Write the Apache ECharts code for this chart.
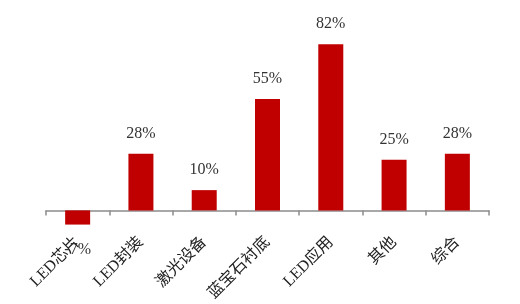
<!DOCTYPE html>
<html><head><meta charset="utf-8">
<script src="https://cdn.jsdelivr.net/npm/echarts@6/dist/echarts.min.js"></script>
<style>html,body{margin:0;padding:0;background:#fff}#c{width:520px;height:304px}</style>
</head><body><div id="c"></div>
<script>
const categories = ['LED芯片', 'LED封装', '激光设备', '蓝宝石衬底', 'LED应用', '其他', '综合'];
const values = [-7, 28, 10, 55, 82, 25, 28];

const chart = echarts.init(document.getElementById('c'));
chart.setOption({
  animation: false,
  backgroundColor: '#fff',
  grid: { left: 46, right: 31, top: 28, bottom: 69 },
  xAxis: {
    type: 'category',
    data: categories,
    axisLine: { lineStyle: { color: '#8c8c8c', width: 1.5 } },
    axisTick: { show: true, length: 5, lineStyle: { color: '#8c8c8c', width: 1.5 } },
    axisLabel: {
      interval: 0, rotate: 45, margin: 9,
      fontFamily: '"Liberation Serif", "Noto Sans CJK SC", serif',
      fontSize: 16, color: '#222'
    }
  },
  yAxis: {
    type: 'value', min: -10, max: 90,
    show: false, splitLine: { show: false }
  },
  series: [{
    type: 'bar',
    data: values.map(v => v < 0 ? { value: v, label: { position: 'bottom', distance: 17 } } : v),
    barWidth: 25,
    itemStyle: { color: '#C00000' },
    label: {
      show: true, position: 'top', distance: 12,
      formatter: p => p.value + '%',
      fontFamily: '"Liberation Serif", serif',
      fontSize: 16, color: '#333'
    }
  }]
});
</script></body></html>
